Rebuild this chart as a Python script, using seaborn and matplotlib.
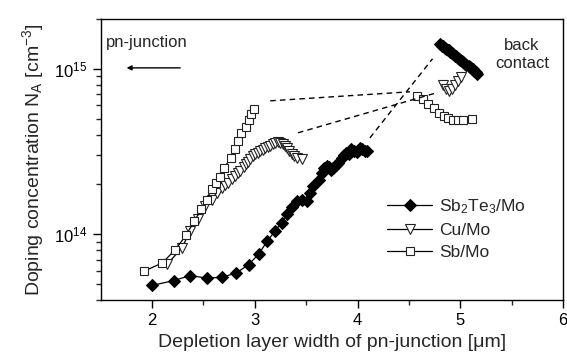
import numpy as np
import pandas as pd
import matplotlib
matplotlib.use("Agg")
import matplotlib.pyplot as plt
import seaborn as sns

# Sb2Te3/Mo - main branch and back-contact branch
sbte_x = [2.00, 2.21, 2.37, 2.53, 2.68, 2.82, 2.94, 3.04, 3.12, 3.20, 3.26, 3.31,
          3.36, 3.41, 3.46, 3.51, 3.54, 3.57, 3.62, 3.65, 3.67, 3.70, 3.72, 3.74,
          3.76, 3.79, 3.81, 3.85, 3.87, 3.89, 3.92, 3.94, 3.97, 3.99, 4.02, 4.04, 4.07, 4.09]
sbte_y = [4.9e13, 5.24e13, 5.62e13, 5.43e13, 5.49e13, 5.83e13, 6.55e13, 7.6e13, 9.07e13,
          1.05e14, 1.17e14, 1.32e14, 1.46e14, 1.58e14, 1.62e14, 1.58e14, 1.78e14, 1.95e14,
          2.12e14, 2.35e14, 2.52e14, 2.6e14, 2.55e14, 2.45e14, 2.52e14, 2.62e14, 2.70e14,
          2.90e14, 3.0e14, 3.11e14, 3.05e14, 3.26e14, 3.2e14, 3.15e14, 3.3e14, 3.26e14,
          3.2e14, 3.18e14]
sbte_bc_x = [4.80, 4.82, 4.83, 4.85, 4.86, 4.88, 4.89, 4.90, 4.92, 4.93, 4.95, 4.96,
             4.98, 4.99, 5.00, 5.02, 5.03, 5.05, 5.06, 5.08, 5.09, 5.10, 5.12, 5.13,
             5.15, 5.16]
sbte_bc_y = [1.41e15, 1.38e15, 1.37e15, 1.34e15, 1.32e15, 1.30e15, 1.29e15, 1.27e15,
             1.25e15, 1.23e15, 1.20e15, 1.19e15, 1.16e15, 1.15e15, 1.13e15, 1.11e15,
             1.10e15, 1.07e15, 1.06e15, 1.04e15, 1.02e15, 1.01e15, 0.99e15, 0.97e15,
             0.95e15, 0.93e15]

# Cu/Mo
cu_x = [2.15, 2.29, 2.37, 2.45, 2.52, 2.58, 2.63, 2.68, 2.71, 2.74, 2.78, 2.81, 2.84,
        2.86, 2.89, 2.91, 2.93, 2.95, 2.98, 3.00, 3.03, 3.05, 3.08, 3.10, 3.13, 3.15,
        3.18, 3.20, 3.23, 3.25, 3.27, 3.29, 3.31, 3.33, 3.36, 3.38, 3.41, 3.46]
cu_y = [6.61e13, 8.26e13, 1.04e14, 1.23e14, 1.48e14, 1.62e14, 1.78e14, 1.91e14, 1.98e14,
        2.05e14, 2.15e14, 2.25e14, 2.33e14, 2.41e14, 2.55e14, 2.65e14, 2.75e14, 2.84e14,
        2.95e14, 3.04e14, 3.1e14, 3.18e14, 3.25e14, 3.33e14, 3.38e14, 3.41e14, 3.5e14,
        3.58e14, 3.6e14, 3.58e14, 3.5e14, 3.41e14, 3.3e14, 3.18e14, 3.05e14, 2.97e14,
        2.89e14, 2.84e14]
cu_bc_x = [4.83, 4.86, 4.89, 4.92, 4.95, 4.98, 5.01]
cu_bc_y = [8.0e14, 7.56e14, 7.36e14, 7.56e14, 8.0e14, 8.46e14, 8.94e14]

# Sb/Mo
sb_x = [1.92, 2.10, 2.22, 2.33, 2.41, 2.48, 2.53, 2.58, 2.62, 2.66, 2.70, 2.77, 2.81,
        2.84, 2.87, 2.91, 2.94, 2.96, 2.99]
sb_y = [5.97e13, 6.70e13, 8.0e13, 9.82e13, 1.20e14, 1.41e14, 1.62e14, 1.87e14, 2.03e14,
        2.23e14, 2.52e14, 2.90e14, 3.26e14, 3.66e14, 4.08e14, 4.47e14, 4.91e14, 5.32e14,
        5.75e14]
sb_bc_x = [4.58, 4.64, 4.69, 4.74, 4.79, 4.84, 4.88, 4.93, 4.98, 5.03, 5.11]
sb_bc_y = [6.86e14, 6.55e14, 6.16e14, 5.78e14, 5.43e14, 5.19e14, 5.03e14, 4.91e14,
           4.91e14, 4.91e14, 4.96e14]

# dashed guide lines (start, end)
guide_x = [[3.15, 4.51], [3.42, 4.77], [4.12, 4.73]]
guide_y = [[6.4e14, 7.26e14], [4.1e14, 7.16e14], [3.82e14, 1.15e15]]

sns.set_style("ticks")
plt.rcParams['font.family'] = ['Liberation Sans', 'DejaVu Sans']
plt.rcParams['mathtext.default'] = 'regular'

fig = plt.figure(figsize=(5.67, 3.58), dpi=100)
ax = fig.add_axes([0.1776, 0.162, 0.8154, 0.785])

styles = [
    ("Sb$_2$Te$_3$/Mo", sbte_x, sbte_y, sbte_bc_x, sbte_bc_y,
     dict(marker='D', markersize=6, markerfacecolor='black', markeredgecolor='black')),
    ("Cu/Mo", cu_x, cu_y, cu_bc_x, cu_bc_y,
     dict(marker='v', markersize=6.5, markerfacecolor='white', markeredgecolor='#222222',
          markeredgewidth=0.8)),
    ("Sb/Mo", sb_x, sb_y, sb_bc_x, sb_bc_y,
     dict(marker='s', markersize=5.5, markerfacecolor='white', markeredgecolor='#222222',
          markeredgewidth=0.8)),
]

for i, (name, x1, y1, x2, y2, kw) in enumerate(styles):
    df1 = pd.DataFrame({'x': x1, 'y': y1})
    sns.lineplot(data=df1, x='x', y='y', ax=ax, sort=False, estimator=None,
                 color='black', linewidth=0.9, label=name, **kw)
    df2 = pd.DataFrame({'x': x2, 'y': y2})
    # back contact branch of Sb2Te3 is a dense, thick band
    lw2 = 4.5 if i == 0 else 0.9
    sns.lineplot(data=df2, x='x', y='y', ax=ax, sort=False, estimator=None,
                 color='black', linewidth=lw2, **kw)

for gx, gy in zip(guide_x, guide_y):
    ax.plot(gx, gy, color='black', linewidth=1.0, linestyle=(0, (4, 3)))

ax.set_yscale('log')
ax.set_xlim(1.5, 6)
ax.set_ylim(4e13, 2e15)
ax.set_xticks([2, 3, 4, 5, 6])
ax.set_xticks([2.5, 3.5, 4.5, 5.5], minor=True)
ax.yaxis.set_major_locator(matplotlib.ticker.FixedLocator([1e14, 1e15]))
ax.yaxis.set_minor_locator(matplotlib.ticker.LogLocator(base=10, subs=np.arange(2, 10)))
ax.yaxis.set_minor_formatter(matplotlib.ticker.NullFormatter())
ax.tick_params(which='major', direction='out', length=6, width=1.0, labelsize=12,
               colors='black')
ax.tick_params(which='minor', direction='out', length=3.5, width=1.0)
for s in ax.spines.values():
    s.set_linewidth(1.0)
    s.set_color('black')

ax.set_xlabel("Depletion layer width of pn-junction [μm]", fontsize=14, labelpad=4)
ax.set_ylabel("Doping concentration N$_A$ [cm$^{-3}$]", fontsize=14, labelpad=6)

ax.text(0.10, 0.915, "pn-junction", transform=ax.transAxes, ha='center', va='center',
        fontsize=12)
ax.annotate("", xy=(0.050, 0.826), xytext=(0.178, 0.826), xycoords='axes fraction',
            arrowprops=dict(arrowstyle='-|>', color='black', lw=1.0,
                            mutation_scale=7))
ax.text(0.911, 0.874, "back\ncontact", transform=ax.transAxes, ha='center',
        va='center', fontsize=12, linespacing=1.3)

ax.legend(loc='center left', bbox_to_anchor=(0.62, 0.253), frameon=False,
          fontsize=12.5, handlelength=2.6, handletextpad=0.4, labelspacing=0.4,
          borderpad=0, borderaxespad=0)

fig.savefig("out.png", dpi=100)
